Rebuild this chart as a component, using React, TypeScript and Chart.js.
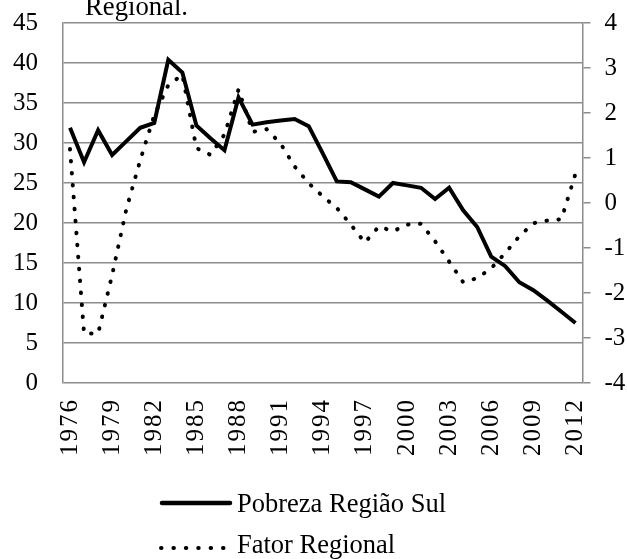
import React, { useEffect, useRef } from "react";
import { Chart, registerables } from "chart.js";

Chart.register(...registerables);

const years: string[] = [
  "1976", "1977", "1978", "1979", "1980", "1981", "1982", "1983", "1984", "1985",
  "1986", "1987", "1988", "1989", "1990", "1991", "1992", "1993", "1994", "1995",
  "1996", "1997", "1998", "1999", "2000", "2001", "2002", "2003", "2004", "2005",
  "2006", "2007", "2008", "2009", "2010", "2011", "2012",
];

const pobrezaRegiaoSul: number[] = [
  31.9, 27.6, 31.6, 28.5, 30.2, 31.9, 32.5, 40.4, 38.8, 32.2,
  30.6, 29.1, 35.7, 32.3, 32.6, 32.8, 33.0, 32.1, 28.7, 25.2,
  25.1, 24.2, 23.3, 25.0, 24.7, 24.4, 23.0, 24.4, 21.6, 19.5,
  15.8, 14.6, 12.6, 11.6, 10.3, 8.9, 7.5,
];

const fatorRegional: number[] = [
  1.2, -2.9, -2.9, -1.6, -0.15, 0.95, 1.95, 2.62, 2.85, 1.22,
  1.07, 1.52, 2.52, 1.58, 1.64, 1.32, 0.81, 0.44, 0.15, -0.11,
  -0.48, -0.88, -0.52, -0.63, -0.48, -0.46, -0.85, -1.3, -1.76, -1.67,
  -1.45, -1.11, -0.74, -0.45, -0.39, -0.36, 0.65,
];

const seriesNames: string[] = ["Pobreza Região Sul", "Fator Regional"];
const titleFragment = "Regional.";
const xLabelStep = 3;

const FONT = "'Liberation Serif', 'Times New Roman', serif";
const GRID = "#8c8c8c";

const xLabelSpacing = {
  id: "xLabelSpacing",
  afterLayout(chart: any) {
    const sc: any = chart.scales.x;
    if (!sc || sc.__wrapped) return;
    const orig = sc.drawLabels.bind(sc);
    sc.drawLabels = (area: any) => {
      const ctx: any = chart.ctx;
      const prev = ctx.letterSpacing;
      ctx.letterSpacing = "2px";
      orig(area);
      ctx.letterSpacing = prev || "0px";
    };
    sc.__wrapped = true;
  },
};

const fitVertical = (w: number) => (s: any) => {
  s.width = w;
  s.paddingTop = 0;
  s.paddingBottom = 0;
};

export default function App() {
  const canvasRef = useRef<HTMLCanvasElement | null>(null);

  useEffect(() => {
    const canvas = canvasRef.current;
    if (!canvas) return;
    const chart = new Chart(canvas, {
      type: "line",
      data: {
        labels: years,
        datasets: [
          {
            label: seriesNames[0],
            data: pobrezaRegiaoSul,
            yAxisID: "y",
            borderColor: "#000",
            borderWidth: 4,
            pointRadius: 0,
            tension: 0,
            fill: false,
            order: 2,
          },
          {
            label: seriesNames[1],
            data: fatorRegional,
            yAxisID: "y1",
            borderColor: "#000",
            borderWidth: 4,
            borderDash: [0.5, 11.5],
            borderCapStyle: "round",
            pointRadius: 0,
            tension: 0,
            fill: false,
            order: 1,
          },
        ],
      },
      options: {
        responsive: false,
        animation: false,
        devicePixelRatio: 1,
        layout: { padding: { top: 23, left: 0, right: 0, bottom: 0 } },
        plugins: {
          legend: { display: false },
          title: { display: false },
          tooltip: { enabled: false },
        },
        scales: {
          x: {
            offset: true,
            grid: { display: false, drawTicks: false },
            border: { display: false },
            ticks: {
              autoSkip: false,
              maxRotation: 90,
              minRotation: 90,
              padding: 15,
              color: "#000",
              font: { family: FONT, size: 25 },
              callback: (_v: any, i: number) => (i % xLabelStep === 0 ? years[i] : ""),
            },
            afterFit: (s: any) => {
              s.height = 176;
              s.paddingLeft = 0;
              s.paddingRight = 0;
            },
          },
          y: {
            position: "left",
            min: 0,
            max: 45,
            ticks: {
              stepSize: 5,
              padding: 25,
              color: "#000",
              font: { family: FONT, size: 25 },
            },
            grid: { color: GRID, lineWidth: 1.5, drawTicks: false },
            border: { display: true, color: GRID, width: 1.5 },
            afterFit: fitVertical(63),
          },
          y1: {
            position: "right",
            min: -4,
            max: 4,
            ticks: {
              stepSize: 1,
              padding: 14,
              color: "#000",
              font: { family: FONT, size: 25 },
            },
            grid: {
              drawOnChartArea: false,
              drawTicks: true,
              tickLength: 8,
              color: GRID,
              lineWidth: 1.5,
            },
            border: { display: true, color: GRID, width: 1.5 },
            afterFit: fitVertical(44.5),
          },
        },
      },
      plugins: [xLabelSpacing],
    });
    return () => chart.destroy();
  }, []);

  const textStyle: React.CSSProperties = {
    position: "absolute",
    fontFamily: FONT,
    fontSize: 26.5,
    lineHeight: 1,
    color: "#000",
    whiteSpace: "nowrap",
  };

  return (
    <div
      style={{
        position: "absolute",
        left: 0,
        top: 0,
        width: 627,
        height: 559,
        overflow: "hidden",
        background: "#fff",
      }}
    >
      <canvas
        ref={canvasRef}
        width={627}
        height={559}
        style={{ display: "block", width: 627, height: 559 }}
      />
      <div style={{ ...textStyle, left: 85, top: -7, fontSize: 26.7 }}>{titleFragment}</div>
      <svg
        width={627}
        height={559}
        style={{ position: "absolute", left: 0, top: 0, pointerEvents: "none" }}
      >
        <line x1={162} y1={503} x2={230} y2={503} stroke="#000" strokeWidth={4.5} strokeLinecap="round" />
        <line
          x1={161}
          y1={548}
          x2={224}
          y2={548}
          stroke="#000"
          strokeWidth={4}
          strokeLinecap="round"
          strokeDasharray="0.5 11.9"
        />
      </svg>
      <div style={{ ...textStyle, left: 237, top: 490 }}>{seriesNames[0]}</div>
      <div style={{ ...textStyle, left: 237, top: 531 }}>{seriesNames[1]}</div>
    </div>
  );
}
